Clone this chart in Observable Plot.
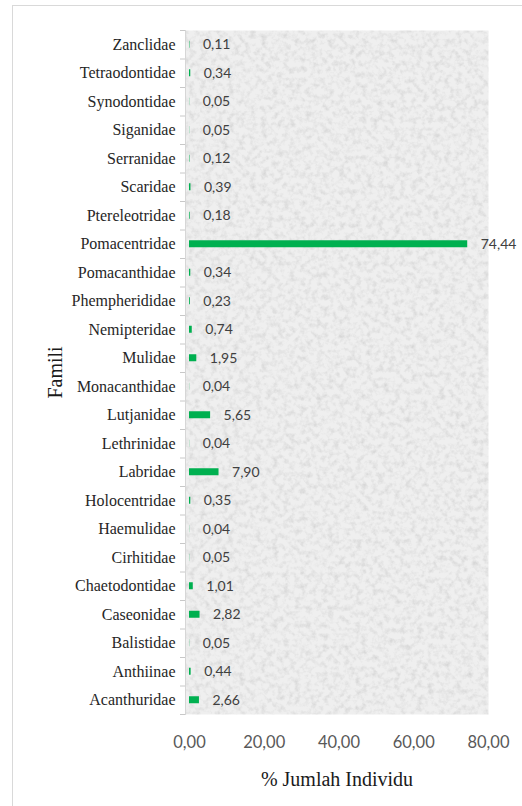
<!DOCTYPE html>
<html>
<head>
<meta charset="utf-8">
<script src="https://cdn.jsdelivr.net/npm/d3@7"></script>
<script src="https://cdn.jsdelivr.net/npm/@observablehq/plot@0.6"></script>
<style>
  html, body { margin: 0; padding: 0; background: #fff; overflow: hidden; }
  #wrap { position: relative; width: 522px; height: 806px; }
  #border { position: absolute; left: 12px; top: 5px; width: 600px; height: 900px;
            border-top: 1.5px solid #d9d9d9; border-left: 1.5px solid #d9d9d9; }
  #chart { position: absolute; left: 0; top: 0; }
</style>
</head>
<body>
<div id="wrap"><div id="border"></div><div id="chart"></div></div>
<script>
const families = ["Zanclidae","Tetraodontidae","Synodontidae","Siganidae","Serranidae","Scaridae",
  "Ptereleotridae","Pomacentridae","Pomacanthidae","Phempherididae","Nemipteridae","Mulidae",
  "Monacanthidae","Lutjanidae","Lethrinidae","Labridae","Holocentridae","Haemulidae","Cirhitidae",
  "Chaetodontidae","Caseonidae","Balistidae","Anthiinae","Acanthuridae"];
const values = [0.11,0.34,0.05,0.05,0.12,0.39,0.18,74.44,0.34,0.23,0.74,1.95,0.04,5.65,0.04,7.90,
  0.35,0.04,0.05,1.01,2.82,0.05,0.44,2.66];
const xTicks = [0,20,40,60,80];
const xTitle = "% Jumlah Individu";
const yTitle = "Famili";

const data = families.map((f, i) => ({family: f, value: values[i]}));
const fmt = d => d.toFixed(2).replace(".", ",");

const H = 806, mTop = 30, mBottom = 92;
const step = (H - mTop - mBottom) / families.length;
const barH = 7;
const serif = "'Liberation Serif', 'Times New Roman', serif";
const sans = "Lato, 'Open Sans', sans-serif";

const chart = Plot.plot({
  width: 522,
  height: H,
  marginTop: mTop,
  marginBottom: mBottom,
  marginLeft: 185,
  marginRight: 34,
  x: {domain: [0, 80], insetLeft: 4},
  y: {domain: families, padding: 0, round: false},
  style: {background: "transparent", color: "#262626"},
  marks: [
    Plot.frame({fill: "#f2f2f2", stroke: null}),
    Plot.frame({anchor: "left", stroke: "#d6d6d6"}),
    Plot.axisY({tickSize: 5, fill: "none", stroke: "#c8c8c8", dy: -step / 2, label: null}),
    Plot.axisY({ticks: [families[families.length - 1]], tickSize: 5, fill: "none", stroke: "#c8c8c8", dy: step / 2, label: null}),
    Plot.axisY({tickSize: 0, tickPadding: 10, fontFamily: serif, fontSize: 16, fill: "#262626", label: null}),
    Plot.axisY({ticks: [], label: yTitle, labelAnchor: "center", labelOffset: 138, labelArrow: "none",
      fontFamily: serif, fontSize: 20, fill: "#1a1a1a"}),
    Plot.axisX({ticks: xTicks, tickSize: 0, tickPadding: 22, tickFormat: fmt, fontFamily: sans,
      fontSize: 16.5, fill: "#595959", label: null}),
    Plot.axisX({ticks: [], label: xTitle, labelAnchor: "center", labelOffset: 71, labelArrow: "none",
      fontFamily: serif, fontSize: 20, fill: "#1a1a1a"}),
    Plot.barX(data, {x: "value", y: "family", fill: "#00b050",
      insetTop: (step - barH) / 2, insetBottom: (step - barH) / 2}),
    Plot.text(data, {x: "value", y: "family", text: d => fmt(d.value), textAnchor: "start", dx: 13,
      fontFamily: sans, fontSize: 14, fill: "#404040"})
  ]
});

// soft grain texture for the plot-area background
const svg = d3.select(chart);
const defs = svg.insert("defs", ":first-child");
const f = defs.append("filter").attr("id", "grain")
  .attr("x", 0).attr("y", 0).attr("width", 1).attr("height", 1);
f.append("feTurbulence").attr("type", "fractalNoise").attr("baseFrequency", 0.18)
  .attr("numOctaves", 3).attr("seed", 7).attr("result", "t");
f.append("feColorMatrix").attr("in", "t").attr("type", "matrix")
  .attr("values", "0 0 0 0 0.66  0 0 0 0 0.66  0 0 0 0 0.66  1.9 0 0 0 -0.8").attr("result", "spots");
f.append("feGaussianBlur").attr("in", "spots").attr("stdDeviation", 0.7).attr("result", "soft");
f.append("feFlood").attr("flood-color", "#efefef").attr("result", "bg");
f.append("feComposite").attr("in", "soft").attr("in2", "bg").attr("operator", "over").attr("result", "c");
f.append("feComposite").attr("in", "c").attr("in2", "SourceGraphic").attr("operator", "in");
const frames = svg.selectAll('[aria-label="frame"]');
d3.select(frames.nodes()[0]).attr("filter", "url(#grain)");

document.getElementById("chart").appendChild(chart);
</script>
</body>
</html>
